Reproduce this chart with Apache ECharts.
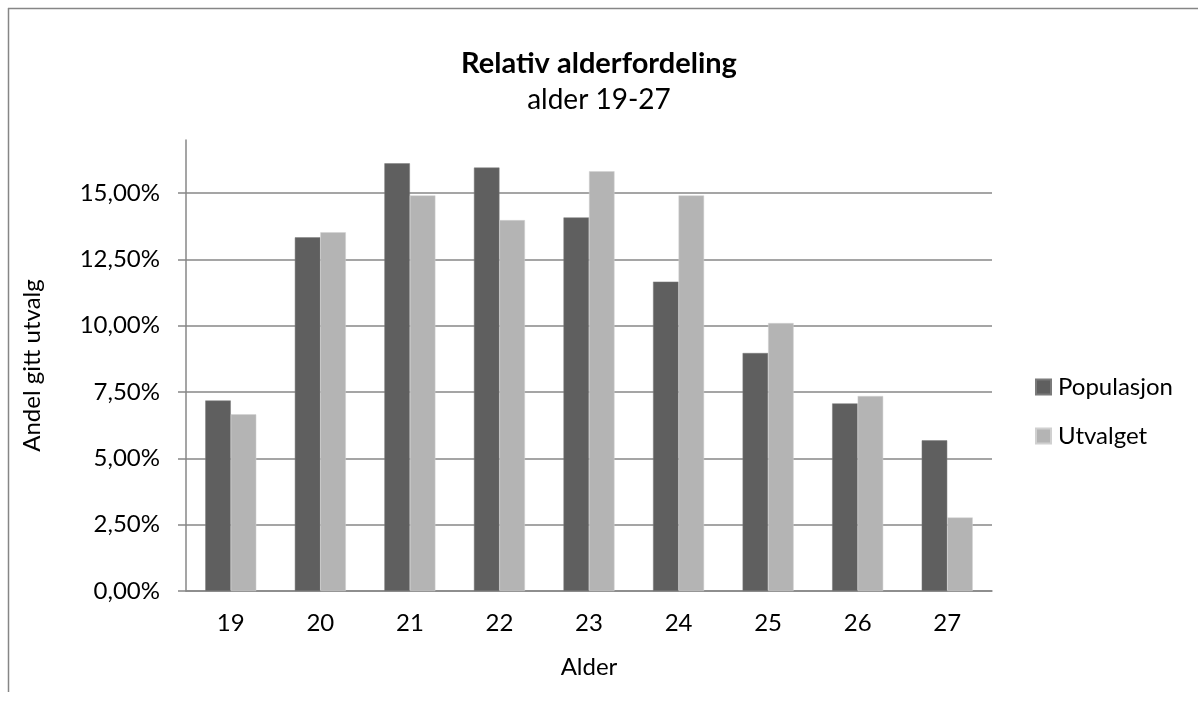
<!DOCTYPE html>
<html>
<head>
<meta charset="utf-8">
<title>Relativ alderfordeling</title>
<script src="https://cdn.jsdelivr.net/npm/echarts@6/dist/echarts.min.js"></script>
<style>
  html, body { margin: 0; padding: 0; background: #fff; }
  #chart { width: 1198px; height: 709px; }
</style>
</head>
<body>
<div id="chart"></div>
<script>
// Alder (kategorier)
const ages = ['19', '20', '21', '22', '23', '24', '25', '26', '27'];
// Andel i prosent per alder
const populasjon = [7.18, 13.33, 16.12, 15.96, 14.08, 11.66, 8.97, 7.07, 5.68];
const utvalget   = [6.66, 13.52, 14.91, 13.98, 15.82, 14.91, 10.10, 7.35, 2.77];
// Verdier på y-aksen
const yTicks = [0, 2.5, 5, 7.5, 10, 12.5, 15];

const FONT = 'Lato, "Open Sans", sans-serif';
const GRID_GREY = '#878787';

const chart = echarts.init(document.getElementById('chart'), null, { renderer: 'canvas' });

const fmtPct = v => v.toFixed(2).replace('.', ',') + '%';

chart.setOption({
  backgroundColor: '#ffffff',
  animation: false,
  title: {
    text: 'Relativ alderfordeling',
    subtext: 'alder 19-27',
    left: 'center',
    top: 44,
    itemGap: 8,
    textStyle: { fontFamily: FONT, fontSize: 29, fontWeight: 'bold', color: '#000' },
    subtextStyle: { fontFamily: FONT, fontSize: 28, color: '#000' }
  },
  legend: {
    orient: 'vertical',
    left: 1035,
    top: 375,
    padding: 0,
    itemWidth: 15,
    itemHeight: 15,
    itemGap: 25,
    icon: 'rect',
    textStyle: { fontFamily: FONT, fontSize: 24, color: '#000', padding: [0, 0, 0, 2] },
    data: ['Populasjon', 'Utvalget']
  },
  grid: { left: 186, right: 206, top: 140, bottom: 118, containLabel: false },
  xAxis: {
    type: 'category',
    data: ages,
    name: 'Alder',
    nameLocation: 'middle',
    nameGap: 64,
    nameTextStyle: { fontFamily: FONT, fontSize: 24, color: '#000' },
    axisLine: { lineStyle: { color: GRID_GREY, width: 1.5 } },
    axisTick: { show: false },
    axisLabel: { fontFamily: FONT, fontSize: 24, color: '#000', margin: 20 }
  },
  yAxis: {
    type: 'value',
    min: 0,
    max: 17,
    interval: 2.5,
    name: 'Andel gitt utvalg',
    nameLocation: 'middle',
    nameGap: 142,
    nameRotate: 90,
    nameTextStyle: { fontFamily: FONT, fontSize: 24, color: '#000' },
    axisLine: { show: true, lineStyle: { color: GRID_GREY, width: 1.5 } },
    axisTick: { show: true, inside: false, length: 8, customValues: yTicks, lineStyle: { color: GRID_GREY, width: 1.5 } },
    axisLabel: {
      customValues: yTicks,
      fontFamily: FONT, fontSize: 24, color: '#000', margin: 26,
      formatter: v => fmtPct(v)
    },
    splitLine: { show: true, lineStyle: { color: GRID_GREY, width: 1.5 } }
  },
  series: [
    {
      name: 'Populasjon',
      type: 'bar',
      data: populasjon,
      barWidth: 25.5,
      barGap: '0%',
      itemStyle: { color: '#5f5f5f', borderColor: '#7a7a7a', borderWidth: 0.5 }
    },
    {
      name: 'Utvalget',
      type: 'bar',
      data: utvalget,
      barWidth: 25.5,
      barGap: '0%',
      itemStyle: { color: '#b4b4b4', borderColor: '#d0d0d0', borderWidth: 0.5 }
    }
  ],
  graphic: [
    { type: 'line', silent: true, shape: { x1: 8, y1: 8.5, x2: 1198, y2: 8.5 }, style: { stroke: '#868686', lineWidth: 1.5 } },
    { type: 'line', silent: true, shape: { x1: 8.5, y1: 8, x2: 8.5, y2: 692 }, style: { stroke: '#868686', lineWidth: 1.5 } }
  ]
});
</script>
</body>
</html>
